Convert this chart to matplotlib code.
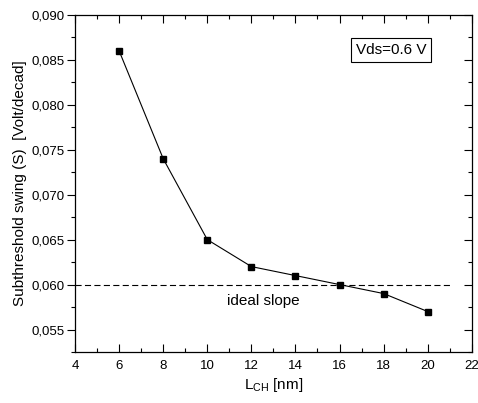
import matplotlib
matplotlib.use("Agg")
import matplotlib.pyplot as plt
from matplotlib.ticker import MultipleLocator, FuncFormatter

plt.rcParams['font.family'] = ['Liberation Sans', 'DejaVu Sans']

# data
l_ch = [6, 8, 10, 12, 14, 16, 18, 20]
swing = [0.086, 0.074, 0.065, 0.062, 0.061, 0.060, 0.059, 0.057]
ideal_x = [4, 21]
ideal_y = [0.060, 0.060]

fig = plt.figure(figsize=(4.78, 4.03), dpi=100)
ax = fig.add_axes([0.157, 0.1266, 0.830, 0.8364])

ax.plot(l_ch, swing, color='black', lw=0.8, marker='s', ms=4.5)
ax.plot(ideal_x, ideal_y, color='black', lw=0.8, ls=(0, (5.5, 3)))

ax.set_xlim(4, 22)
ax.set_ylim(0.0525, 0.090)
ax.xaxis.set_major_locator(MultipleLocator(2))
ax.xaxis.set_minor_locator(MultipleLocator(1))
ax.yaxis.set_major_locator(MultipleLocator(0.005))
ax.yaxis.set_minor_locator(MultipleLocator(0.0025))
ax.yaxis.set_major_formatter(FuncFormatter(lambda v, p: f"{v:.3f}".replace('.', ',')))

ax.tick_params(which='both', top=True, right=True, direction='in', labelsize=9.5, width=0.8)
ax.tick_params(axis='y', which='both', left=True, right=True, direction='out')
ax.tick_params(which='major', length=6)
ax.tick_params(which='minor', length=3)
ax.tick_params(axis='x', which='major', pad=6)
ax.tick_params(axis='y', which='major', pad=1.5)
for s in ax.spines.values():
    s.set_linewidth(0.9)

# right-side ticks point inward
for t in ax.yaxis.get_major_ticks() + ax.yaxis.get_minor_ticks():
    t.tick2line.set_marker(0)

ax.set_xlabel(r'L$_{\mathregular{CH}}$ [nm]', fontsize=11, labelpad=3)
ax.set_ylabel('Subthreshold swing (S)  [Volt/decad]', fontsize=11, labelpad=3)

ax.text(10.9, 0.05815, 'ideal slope', fontsize=11, va='center', ha='left')
ax.text(0.796, 0.896, 'Vds=0.6 V', transform=ax.transAxes, fontsize=11,
        ha='center', va='center',
        bbox=dict(boxstyle='square,pad=0.3', fc='white', ec='black', lw=0.8))

fig.savefig('out.png', dpi=100)
